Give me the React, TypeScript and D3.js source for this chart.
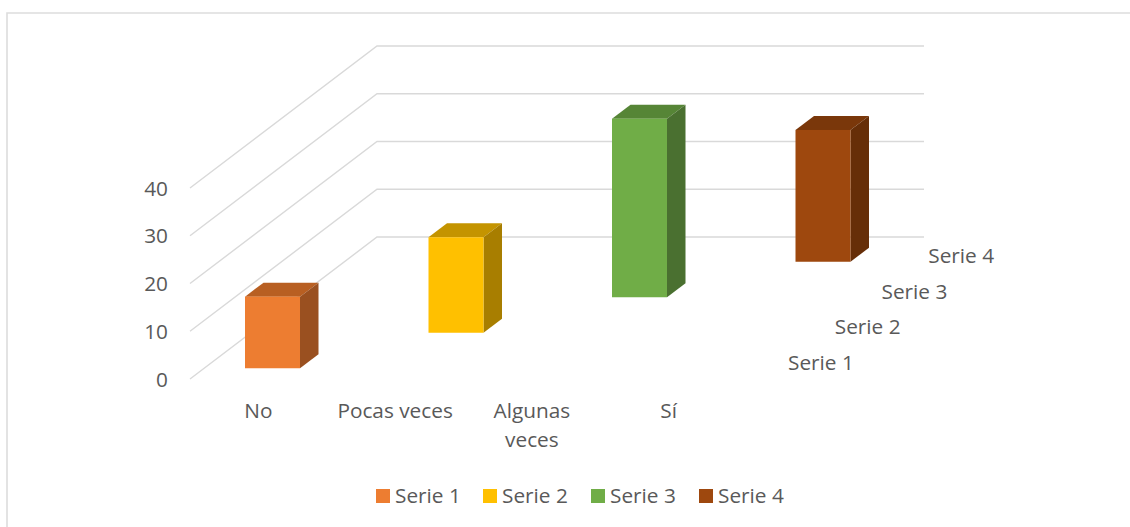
import React from "react";
import * as d3 from "d3";

const categories = ["No", "Pocas veces", "Algunas veces", "Sí"];
const series = ["Serie 1", "Serie 2", "Serie 3", "Serie 4"];
const values = [15, 20, 37.4, 27.6];
const yTicks = [0, 10, 20, 30, 40];
const faceColors = ["#ED7D31", "#FFC000", "#70AD47", "#9E480E"];
const topColors = ["#B85F22", "#C49400", "#568536", "#7A370A"];
const sideColors = ["#9A5020", "#A87E00", "#4A7030", "#662E08"];
const legendX = [376, 483, 591, 699];

const FONT = "'Open Sans', sans-serif";
const FS = 20.8;
const TEXT = "#595959";
const GRID = "#D9D9D9";

export default function App() {
  const catX = d3.scaleBand<string>().domain(categories).range([190, 737]).paddingInner(0).paddingOuter(0);
  const depth = d3.scaleBand<string>().domain(series).range([0, 1]);
  const y = d3.scaleLinear().domain([0, 40]).range([379, 188]);
  const dxTotal = 187;
  const dyTotal = 142;
  const barW = 55;
  const barDx = 18.5;
  const barDy = 14;
  const poly = (p: number[][]) => p.map((q) => q.join(",")).join(" ");
  const gridPath = d3.line();

  return (
    <svg width={1130} height={527} style={{ position: "absolute", left: 0, top: 0, background: "#fff" }}>
      <path d="M7,527 L7,13 L1130,13" fill="none" stroke="#DDDDDD" strokeWidth={1.6} />
      {yTicks.map((t) => (
        <path
          key={t}
          d={gridPath([[190, y(t)], [190 + dxTotal, y(t) - dyTotal], [924, y(t) - dyTotal]]) || ""}
          fill="none"
          stroke={GRID}
          strokeWidth={1.4}
        />
      ))}
      {yTicks.map((t) => (
        <text key={t} x={168} y={y(t) + 7.5} textAnchor="end" fontFamily={FONT} fontSize={FS} fill={TEXT}>{t}</text>
      ))}
      {categories.map((c, i) => {
        const k = series[i];
        const d0 = depth(k)!;
        const offX = d0 * dxTotal + (dxTotal / 4 - barDx) / 2;
        const offY = d0 * dyTotal + (dyTotal / 4 - barDy) / 2;
        const x0 = catX(c)! + (catX.bandwidth() - barW) / 2 + offX;
        const x1 = x0 + barW;
        const yb = y(0) - offY;
        const yt = y(values[i]) - offY;
        return (
          <g key={c}>
            <polygon points={poly([[x0, yt], [x1, yt], [x1 + barDx, yt - barDy], [x0 + barDx, yt - barDy]])} fill={topColors[i]} />
            <polygon points={poly([[x1, yt], [x1 + barDx, yt - barDy], [x1 + barDx, yb - barDy], [x1, yb]])} fill={sideColors[i]} />
            <rect x={x0} y={yt} width={barW} height={yb - yt} fill={faceColors[i]} />
          </g>
        );
      })}
      {categories.map((c) => {
        const cx = catX(c)! + catX.bandwidth() / 2;
        const words = c === "Algunas veces" ? ["Algunas", "veces"] : [c];
        return (
          <text key={c} textAnchor="middle" fontFamily={FONT} fontSize={FS} fill={TEXT}>
            {words.map((w, j) => (
              <tspan key={w} x={cx} y={417.5 + j * 29}>{w}</tspan>
            ))}
          </text>
        );
      })}
      {series.map((s) => {
        const d0 = depth(s)!;
        return (
          <text key={s} x={788 + d0 * dxTotal} y={369.5 - d0 * dyTotal} fontFamily={FONT} fontSize={FS} fill={TEXT}>{s}</text>
        );
      })}
      {series.map((s, i) => (
        <g key={s}>
          <rect x={legendX[i]} y={489} width={14} height={14} fill={faceColors[i]} />
          <text x={legendX[i] + 19} y={503} fontFamily={FONT} fontSize={FS} fill={TEXT}>{s}</text>
        </g>
      ))}
    </svg>
  );
}
